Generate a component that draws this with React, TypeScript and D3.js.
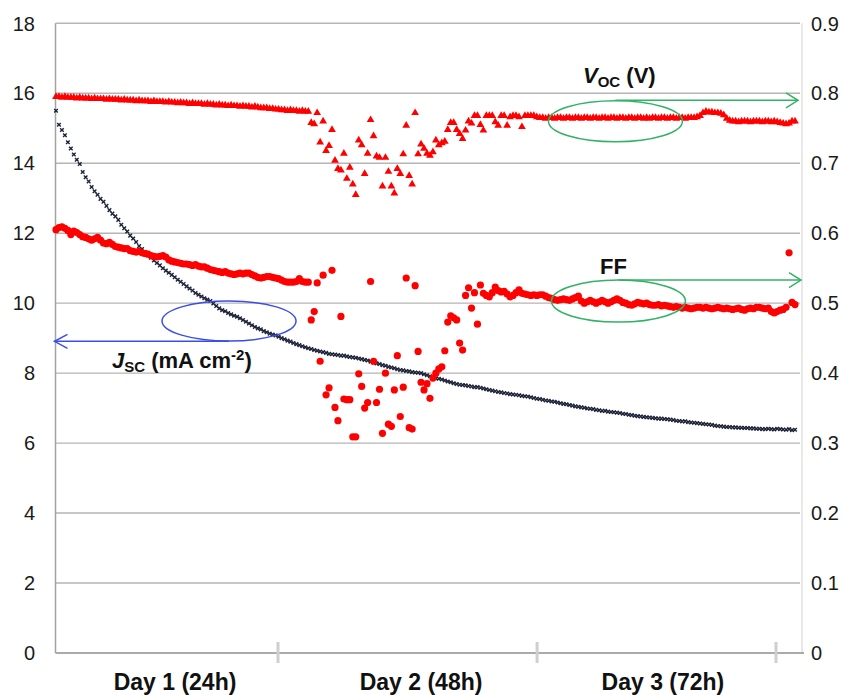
import * as d3 from 'd3'

// sample index 0..249 runs along the x axis (measurement number)
const leftTicks = [0, 2, 4, 6, 8, 10, 12, 14, 16, 18]
const rightTicks = [0, 0.1, 0.2, 0.3, 0.4, 0.5, 0.6, 0.7, 0.8, 0.9]
const dayTicks = [74.8, 162.1, 242.6]
const dayLabels = ['Day 1 (24h)', 'Day 2 (48h)', 'Day 3 (72h)']
const dayLabelPos = [40.1, 123, 204.5]

// Jsc (mA cm-2), left axis
const jsc = [
  15.5, 15.1, 14.95, 14.8, 14.6, 14.42, 14.25, 14.1, 13.98, 13.75,
  13.6, 13.48, 13.32, 13.2, 13.1, 12.98, 12.9, 12.78, 12.66, 12.56,
  12.48, 12.38, 12.24, 12.14, 12.05, 11.93, 11.85, 11.75, 11.63, 11.55,
  11.46, 11.38, 11.3, 11.22, 11.15, 11.08, 11.0, 10.93, 10.87, 10.81,
  10.74, 10.67, 10.61, 10.55, 10.48, 10.42, 10.36, 10.29, 10.24, 10.19,
  10.14, 10.1, 10.06, 9.99, 9.92, 9.85, 9.8, 9.77, 9.72, 9.68,
  9.64, 9.61, 9.57, 9.52, 9.47, 9.42, 9.37, 9.32, 9.28, 9.25,
  9.2, 9.17, 9.13, 9.1, 9.08, 9.04, 9.0, 8.97, 8.93, 8.9,
  8.86, 8.83, 8.8, 8.77, 8.74, 8.71, 8.69, 8.66, 8.64, 8.62,
  8.6, 8.58, 8.55, 8.54, 8.53, 8.52, 8.5, 8.5, 8.48, 8.46,
  8.45, 8.44, 8.42, 8.4, 8.38, 8.36, 8.33, 8.3, 8.28, 8.26,
  8.23, 8.21, 8.18, 8.16, 8.14, 8.11, 8.09, 8.08, 8.06, 8.05,
  8.03, 8.02, 8.01, 8.0, 7.97, 7.94, 7.91, 7.88, 7.85, 7.84,
  7.82, 7.79, 7.76, 7.74, 7.71, 7.69, 7.67, 7.66, 7.65, 7.63,
  7.62, 7.6, 7.6, 7.58, 7.56, 7.54, 7.52, 7.5, 7.48, 7.46,
  7.45, 7.43, 7.42, 7.4, 7.39, 7.38, 7.37, 7.35, 7.34, 7.33,
  7.31, 7.29, 7.27, 7.26, 7.24, 7.22, 7.21, 7.19, 7.18, 7.16,
  7.14, 7.12, 7.11, 7.09, 7.07, 7.05, 7.04, 7.02, 7.01, 6.99,
  6.98, 6.97, 6.95, 6.94, 6.92, 6.92, 6.9, 6.89, 6.88, 6.87,
  6.86, 6.84, 6.83, 6.81, 6.8, 6.78, 6.77, 6.76, 6.75, 6.74,
  6.73, 6.72, 6.71, 6.7, 6.7, 6.69, 6.68, 6.67, 6.66, 6.64,
  6.63, 6.62, 6.62, 6.6, 6.59, 6.58, 6.57, 6.56, 6.55, 6.54,
  6.53, 6.52, 6.5, 6.49, 6.48, 6.47, 6.46, 6.46, 6.45, 6.45,
  6.44, 6.44, 6.43, 6.43, 6.42, 6.42, 6.41, 6.41, 6.4, 6.4,
  6.41, 6.4, 6.39, 6.41, 6.4, 6.39, 6.38, 6.4, 6.37, 6.38,
]

// Voc (V), right axis
const voc = [
  0.795, 0.795, 0.794, 0.795, 0.794, 0.794, 0.794, 0.793, 0.794, 0.793,
  0.793, 0.793, 0.792, 0.793, 0.792, 0.792, 0.792, 0.791, 0.792, 0.791,
  0.791, 0.791, 0.790, 0.791, 0.790, 0.790, 0.790, 0.789, 0.790, 0.789,
  0.789, 0.789, 0.788, 0.789, 0.788, 0.788, 0.788, 0.787, 0.788, 0.787,
  0.787, 0.786, 0.787, 0.786, 0.786, 0.785, 0.786, 0.785, 0.785, 0.785,
  0.784, 0.785, 0.784, 0.784, 0.783, 0.784, 0.783, 0.783, 0.782, 0.783,
  0.782, 0.782, 0.781, 0.782, 0.781, 0.781, 0.780, 0.781, 0.780, 0.779,
  0.779, 0.779, 0.778, 0.778, 0.777, 0.777, 0.776, 0.776, 0.775, 0.776,
  0.775, 0.775, 0.774, 0.775, 0.774, 0.774, 0.758, 0.756, 0.772, 0.730,
  0.760, 0.718, 0.725, 0.748, 0.704, 0.692, 0.690, 0.714, 0.678, 0.694,
  0.670, 0.655, 0.733, 0.726, 0.685, 0.714, 0.762, 0.739, 0.710, 0.708,
  0.667, 0.708, 0.688, 0.667, 0.657, 0.692, 0.685, 0.713, 0.754, 0.682,
  0.670, 0.772, 0.713, 0.727, 0.721, 0.714, 0.711, 0.716, 0.733, 0.726,
  0.729, 0.731, 0.748, 0.758, 0.758, 0.748, 0.742, 0.735, 0.747, 0.760,
  0.757, 0.768, 0.768, 0.755, 0.747, 0.768, 0.768, 0.768, 0.759, 0.754,
  0.768, 0.768, 0.754, 0.766, 0.768, 0.768, 0.766, 0.752, 0.768, 0.768,
  0.768, 0.768, 0.766, 0.765, 0.765, 0.764, 0.765, 0.765, 0.764, 0.765,
  0.765, 0.764, 0.765, 0.765, 0.764, 0.765, 0.765, 0.764, 0.765, 0.765,
  0.764, 0.765, 0.765, 0.764, 0.765, 0.765, 0.764, 0.765, 0.765, 0.764,
  0.765, 0.765, 0.764, 0.765, 0.765, 0.764, 0.765, 0.765, 0.764, 0.765,
  0.764, 0.765, 0.765, 0.764, 0.765, 0.765, 0.764, 0.765, 0.765, 0.764,
  0.765, 0.765, 0.764, 0.765, 0.765, 0.765, 0.766, 0.768, 0.772, 0.774,
  0.773, 0.773, 0.772, 0.772, 0.771, 0.769, 0.764, 0.761, 0.760, 0.760,
  0.759, 0.760, 0.760, 0.760, 0.759, 0.760, 0.760, 0.760, 0.759, 0.760,
  0.760, 0.759, 0.760, 0.759, 0.758, 0.757, 0.756, 0.757, 0.760, 0.760,
]

// FF, right axis
const ff = [
  0.605, 0.608, 0.609, 0.607, 0.604, 0.598, 0.603, 0.601, 0.598, 0.595,
  0.594, 0.592, 0.590, 0.592, 0.594, 0.590, 0.586, 0.585, 0.587, 0.584,
  0.581, 0.580, 0.579, 0.578, 0.578, 0.575, 0.574, 0.573, 0.574, 0.572,
  0.571, 0.570, 0.568, 0.567, 0.566, 0.567, 0.568, 0.566, 0.562, 0.560,
  0.559, 0.558, 0.557, 0.556, 0.556, 0.555, 0.554, 0.555, 0.553, 0.552,
  0.552, 0.550, 0.548, 0.547, 0.546, 0.545, 0.544, 0.545, 0.543, 0.542,
  0.541, 0.542, 0.543, 0.542, 0.543, 0.543, 0.541, 0.539, 0.537, 0.536,
  0.537, 0.538, 0.538, 0.537, 0.536, 0.535, 0.533, 0.531, 0.530, 0.530,
  0.530, 0.531, 0.535, 0.531, 0.530, 0.530, 0.476, 0.488, 0.529, 0.417,
  0.540, 0.369, 0.379, 0.547, 0.351, 0.332, 0.481, 0.363, 0.362, 0.362,
  0.309, 0.309, 0.399, 0.381, 0.350, 0.358, 0.531, 0.417, 0.358, 0.377,
  0.314, 0.400, 0.327, 0.324, 0.376, 0.425, 0.338, 0.380, 0.536, 0.322,
  0.320, 0.525, 0.431, 0.387, 0.376, 0.385, 0.364, 0.393, 0.400, 0.406,
  0.409, 0.432, 0.473, 0.482, 0.479, 0.476, 0.443, 0.433, 0.511, 0.522,
  0.493, 0.515, 0.470, 0.526, 0.514, 0.511, 0.509, 0.515, 0.523, 0.518,
  0.516, 0.517, 0.513, 0.509, 0.511, 0.515, 0.519, 0.514, 0.513, 0.512,
  0.511, 0.512, 0.511, 0.512, 0.512, 0.510, 0.508, 0.507, 0.505, 0.504,
  0.505, 0.506, 0.505, 0.504, 0.506, 0.508, 0.510, 0.503, 0.500, 0.502,
  0.504, 0.502, 0.500, 0.502, 0.504, 0.502, 0.500, 0.502, 0.504, 0.506,
  0.504, 0.501, 0.500, 0.498, 0.497, 0.499, 0.501, 0.500, 0.499, 0.500,
  0.498, 0.497, 0.497, 0.498, 0.496, 0.497, 0.496, 0.495, 0.494, 0.495,
  0.494, 0.493, 0.494, 0.493, 0.492, 0.493, 0.494, 0.494, 0.493, 0.494,
  0.493, 0.492, 0.493, 0.494, 0.493, 0.492, 0.493, 0.492, 0.491, 0.492,
  0.493, 0.491, 0.490, 0.492, 0.493, 0.492, 0.494, 0.494, 0.493, 0.492,
  0.493, 0.488, 0.486, 0.488, 0.490, 0.491, 0.494, 0.572, 0.501, 0.498,
]

const FONT = '"Liberation Sans", Arial, Helvetica, sans-serif'

export default function App() {
  const width = 843
  const height = 695
  const x = d3.scaleLinear().domain([0, 249]).range([56, 795])
  const yL = d3.scaleLinear().domain([0, 18]).range([653, 23.3])
  const yR = d3.scaleLinear().domain([0, 0.9]).range([653, 23.3])
  const plotLeft = 55.5
  const plotRight = 801

  const triangle = d3.symbol(d3.symbolTriangle, 26)() as string
  const cross = 'M-1.8,-1.8L1.8,1.8M-1.8,1.8L1.8,-1.8'

  const green = '#33b166'
  const blue = '#3b4ee6'

  // annotation anchors, in data units
  const vocMark = { cx: x(188.5), cy: yR(0.760), arrowY: yR(0.79) }
  const ffMark = { cx: x(189.5), cy: yR(0.503), arrowY: yR(0.533) }
  const jscMark = { cx: x(58.3), cy: yL(9.49), arrowY: yL(8.91) }

  return (
    <svg
      width={width}
      height={height}
      style={{ position: 'absolute', left: 0, top: 0, background: '#fff' }}
      fontFamily={FONT}
    >
      {/* gridlines */}
      {leftTicks.slice(1).map(t => (
        <line key={t} x1={plotLeft} x2={plotRight - 1} y1={yL(t)} y2={yL(t)} stroke="#b5b5b5" strokeWidth={1.4} />
      ))}
      <line x1={plotRight + 1} x2={plotRight + 1} y1={yL(18)} y2={yL(0)} stroke="#e2e2e2" strokeWidth={1.5} />
      <line x1={plotLeft} x2={plotLeft} y1={yL(18)} y2={yL(0)} stroke="#a3a3a3" strokeWidth={1.5} />
      <line x1={plotLeft} x2={plotRight + 3} y1={yL(0)} y2={yL(0)} stroke="#8f8f8f" strokeWidth={1.5} />

      {dayTicks.map(t => (
        <line key={t} x1={x(t)} x2={x(t)} y1={yL(0) - 11} y2={yL(0) + 10} stroke="#cfcfcf" strokeWidth={3} />
      ))}

      {/* left axis */}
      {leftTicks.map(t => (
        <text key={t} x={35} y={yL(t)} dy="0.36em" textAnchor="end" fontSize={20} fill="#1a1a1a">
          {t}
        </text>
      ))}
      {/* right axis */}
      {rightTicks.map(t => (
        <text key={t} x={811} y={yR(t)} dy="0.36em" textAnchor="start" fontSize={20} fill="#1a1a1a">
          {t === 0 ? '0' : t.toFixed(1)}
        </text>
      ))}
      {/* day labels */}
      {dayLabels.map((d, i) => (
        <text key={d} x={x(dayLabelPos[i])} y={690} textAnchor="middle" fontSize={23} fontWeight="bold" fill="#111">
          {d}
        </text>
      ))}

      {/* Jsc */}
      <g stroke="#1c2339" strokeWidth={1.4} fill="none">
        {jsc.map((v, i) => (
          <path key={i} d={cross} transform={`translate(${x(i)},${yL(v)})`} />
        ))}
      </g>
      {/* Voc */}
      <g fill="#ff0000">
        {voc.map((v, i) => (
          <path key={i} d={triangle} transform={`translate(${x(i)},${yR(v)})`} />
        ))}
      </g>
      {/* FF */}
      <g fill="#ff0000">
        {ff.map((v, i) => (
          <circle key={i} cx={x(i)} cy={yR(v)} r={3.6} />
        ))}
      </g>

      {/* Voc annotation */}
      <g stroke={green} fill="none" strokeWidth={1.5}>
        <ellipse cx={vocMark.cx} cy={vocMark.cy} rx={67} ry={20.5} />
        <line x1={vocMark.cx} x2={plotRight - 3} y1={vocMark.arrowY} y2={vocMark.arrowY} />
        <polyline points={`${plotRight - 15},${vocMark.arrowY - 7.5} ${plotRight - 3},${vocMark.arrowY} ${plotRight - 15},${vocMark.arrowY + 7.5}`} />
      </g>
      <text x={583} y={83} fontSize={22} fontWeight="bold" fill="#111">
        <tspan fontStyle="italic">V</tspan>
        <tspan fontSize={15} dy={4}>OC</tspan>
        <tspan dy={-4}> (V)</tspan>
      </text>

      {/* FF annotation */}
      <g stroke={green} fill="none" strokeWidth={1.5}>
        <ellipse cx={ffMark.cx} cy={ffMark.cy} rx={67} ry={21} />
        <line x1={ffMark.cx} x2={plotRight} y1={ffMark.arrowY} y2={ffMark.arrowY} />
        <polyline points={`${plotRight - 12},${ffMark.arrowY - 7.5} ${plotRight},${ffMark.arrowY} ${plotRight - 12},${ffMark.arrowY + 7.5}`} />
      </g>
      <text x={600} y={274} fontSize={22} fontWeight="bold" fill="#111">FF</text>

      {/* Jsc annotation */}
      <g stroke={blue} fill="none" strokeWidth={1.5}>
        <ellipse cx={jscMark.cx} cy={jscMark.cy} rx={67} ry={20} />
        <line x1={jscMark.cx} x2={plotLeft - 1} y1={jscMark.arrowY} y2={jscMark.arrowY} />
        <polyline points={`${plotLeft + 12},${jscMark.arrowY - 7} ${plotLeft - 1},${jscMark.arrowY} ${plotLeft + 12},${jscMark.arrowY + 7}`} />
      </g>
      <text x={112} y={368} fontSize={22} fontWeight="bold" fill="#111">
        <tspan fontStyle="italic">J</tspan>
        <tspan fontSize={15} dy={4}>SC</tspan>
        <tspan dy={-4}> (mA cm</tspan>
        <tspan fontSize={15} dy={-8}>-2</tspan>
        <tspan dy={8}>)</tspan>
      </text>
    </svg>
  )
}
